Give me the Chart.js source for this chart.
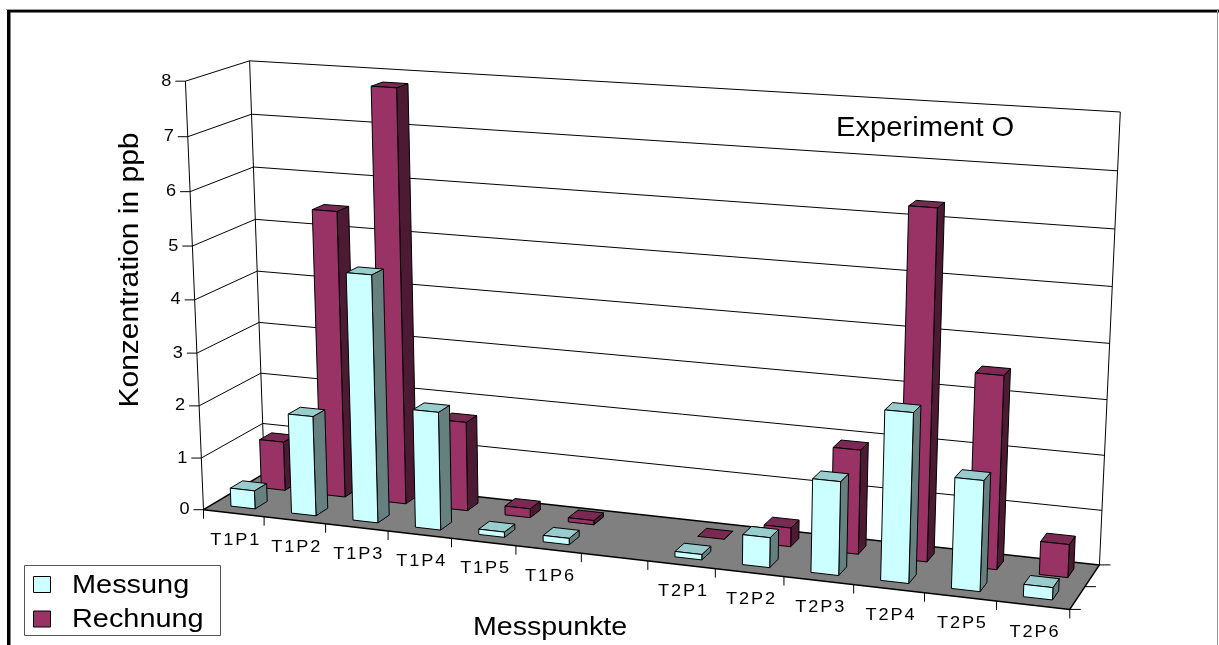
<!DOCTYPE html>
<html>
<head>
<meta charset="utf-8">
<title>Experiment O</title>
<script src="https://cdn.jsdelivr.net/npm/chart.js@4"></script>
<style>
body { margin: 0; background: #fff; }
canvas { display: block; }
</style>
</head>
<body>
<canvas id="chart1" width="1219" height="645"></canvas>
<script>
const categories = ['T1P1', 'T1P2', 'T1P3', 'T1P4', 'T1P5', 'T1P6', '', 'T2P1', 'T2P2', 'T2P3', 'T2P4', 'T2P5', 'T2P6'];
const messung = [0.35, 1.9, 4.65, 2.22, 0.1, 0.12, null, 0.1, 0.55, 1.7, 3.05, 1.98, 0.22];
const rechnung = [0.95, 5.47, 7.82, 1.7, 0.17, 0.08, null, 0, 0.35, 1.92, 6.33, 3.5, 0.6];

const FONT = '"Liberation Sans", Arial, sans-serif';

// where the corners of the 3D box land on the page: [u, v, w, px, py]
const boxCorners = [
  [0, 0, 0, 203.5, 510], [0, 1, 0, 185.5, 81], [0, 1, 1, 249.5, 61], [0, 0, 1, 264.5, 473],
  [1, 0, 1, 1099.5, 565], [1, 1, 1, 1120.3, 112], [1, 0, 0, 1069.7, 609.3]
];

// least squares fit of the camera matrix
function fitCamera(points) {
  const n = 11;
  const A = Array.from({ length: n }, () => new Array(n + 1).fill(0));
  const add = (row, rhs) => {
    for (let i = 0; i < n; i++) {
      for (let j = 0; j < n; j++) A[i][j] += row[i] * row[j];
      A[i][n] += row[i] * rhs;
    }
  };
  points.forEach(([u, v, w, x, y]) => {
    add([u, v, w, 1, 0, 0, 0, 0, -x * u, -x * v, -x * w], x);
    add([0, 0, 0, 0, u, v, w, 1, -y * u, -y * v, -y * w], y);
  });
  for (let c = 0; c < n; c++) {
    let p = c;
    for (let r = c + 1; r < n; r++) if (Math.abs(A[r][c]) > Math.abs(A[p][c])) p = r;
    [A[c], A[p]] = [A[p], A[c]];
    for (let r = 0; r < n; r++) {
      if (r === c) continue;
      const f = A[r][c] / A[c][c];
      for (let k = c; k <= n; k++) A[r][k] -= f * A[c][k];
    }
  }
  return A.map((row, i) => row[n] / row[i]);
}

const cam = fitCamera(boxCorners);
function project(u, v, w) {
  const d = cam[8] * u + cam[9] * v + cam[10] * w + 1;
  return [
    (cam[0] * u + cam[1] * v + cam[2] * w + cam[3]) / d,
    (cam[4] * u + cam[5] * v + cam[6] * w + cam[7]) / d
  ];
}

function face(ctx, pts, fill) {
  ctx.beginPath();
  pts.forEach((p, i) => (i ? ctx.lineTo(p[0], p[1]) : ctx.moveTo(p[0], p[1])));
  ctx.closePath();
  if (fill) {
    ctx.fillStyle = fill;
    ctx.fill();
  }
  ctx.stroke();
}

function line(ctx, a, b, width) {
  ctx.lineWidth = width || 1;
  ctx.beginPath();
  ctx.moveTo(a[0], a[1]);
  ctx.lineTo(b[0], b[1]);
  ctx.stroke();
}

// the reference type is stretched sideways, hence the stretch factor
function text(ctx, str, x, y, size, align, stretch, spacing, angle) {
  ctx.save();
  ctx.translate(x, y);
  if (angle) ctx.rotate(angle);
  ctx.scale(stretch, 1);
  ctx.font = size + 'px ' + FONT;
  ctx.textAlign = align;
  ctx.letterSpacing = (spacing || 0) + 'px';
  ctx.fillStyle = '#000';
  ctx.fillText(str, 0, 0);
  ctx.restore();
}

const box3d = {
  id: 'box3d',
  beforeDatasetsDraw(chart) {
    const { ctx, scales } = chart;
    const xs = scales.x, ys = scales.y;
    ctx.save();
    ctx.strokeStyle = '#000';
    ctx.lineJoin = 'round';

    // page frame
    ctx.fillStyle = '#000';
    ctx.fillRect(7, 10, 3.5, 635);
    ctx.fillRect(7, 10, 1212, 2.5);
    ctx.fillStyle = '#999';
    ctx.fillRect(6, 9, 1213, 1);
    ctx.fillRect(1217, 9, 1, 636);

    // floor
    ctx.lineWidth = 1.5;
    face(ctx, [project(0, 0, 0), project(1, 0, 0), project(1, 0, 1), project(0, 0, 1)], '#808080');

    // grid on the two walls
    ys.ticks.forEach(t => {
      const v = (ys.getPixelForValue(0) - ys.getPixelForValue(t.value)) / chart.chartArea.height;
      const front = project(0, v, 0);
      if (t.value > 0) {
        line(ctx, front, project(0, v, 1));
        line(ctx, project(0, v, 1), project(1, v, 1));
      }
      line(ctx, front, [front[0] - 10, front[1]]);
      ctx.textBaseline = 'middle';
      text(ctx, String(t.value), front[0] - 14, front[1], 16.5, 'right', 1.1);
    });
    line(ctx, project(0, 0, 0), project(0, 1, 0));
    line(ctx, project(0, 0, 1), project(0, 1, 1));
    line(ctx, project(1, 0, 1), project(1, 1, 1));

    // x ticks and labels along the front edge
    const band = chart.chartArea.width / categories.length;
    for (let i = 0; i <= categories.length; i++) {
      const p = project(i * band / chart.chartArea.width, 0, 0);
      line(ctx, p, [p[0], p[1] + 9]);
    }
    categories.forEach((c, i) => {
      const p = project((xs.getPixelForValue(i) - chart.chartArea.left) / chart.chartArea.width, 0, 0);
      ctx.textBaseline = 'middle';
      text(ctx, c, p[0] + 2, p[1] + 27, 16.5, 'center', 1.1, 1.7);
    });

    // depth ticks on the right edge
    [0, 0.5, 1].forEach(w => {
      const p = project(1, 0, w);
      line(ctx, p, [p[0] + 11, p[1]]);
    });

    // titles
    ctx.textBaseline = 'alphabetic';
    text(ctx, 'Messpunkte', 473, 635, 26, 'left', 1.1);
    text(ctx, 'Experiment O', 836, 136, 27, 'left', 1.08);
    text(ctx, 'Konzentration in ppb', 138, 270, 27, 'center', 1.11, 0, -Math.PI / 2);

    // legend
    ctx.strokeStyle = '#555';
    ctx.lineWidth = 1;
    ctx.fillStyle = '#fff';
    ctx.fillRect(24.5, 565.5, 196, 70);
    ctx.strokeRect(24.5, 565.5, 196, 70);
    ctx.strokeStyle = '#000';
    chart.data.datasets.forEach((ds, i) => {
      const top = 576.5 + i * 34.5;
      ctx.fillStyle = ds.backgroundColor;
      ctx.fillRect(33.5, top, 17, 16);
      ctx.strokeRect(33.5, top, 17, 16);
      text(ctx, ds.label, 72, top + 16, 26.5, 'left', 1.09);
    });
    ctx.restore();
  },
  beforeDatasetDraw(chart, args) {
    const { ctx, chartArea: area } = chart;
    const ds = chart.data.datasets[args.index];
    ctx.save();
    ctx.strokeStyle = '#000';
    ctx.lineWidth = 1;
    ctx.lineJoin = 'round';
    args.meta.data.forEach((bar, i) => {
      if (ds.data[i] === null) return;
      const u0 = (bar.x - bar.width / 2 - area.left) / area.width;
      const u1 = (bar.x + bar.width / 2 - area.left) / area.width;
      const v = (bar.base - bar.y) / area.height;
      const [w0, w1] = ds.rowDepth;
      face(ctx, [project(u1, 0, w0), project(u1, 0, w1), project(u1, v, w1), project(u1, v, w0)], ds.sideColor);
      face(ctx, [project(u0, v, w0), project(u1, v, w0), project(u1, v, w1), project(u0, v, w1)], ds.topColor);
      if (v > 0) face(ctx, [project(u0, 0, w0), project(u1, 0, w0), project(u1, v, w0), project(u0, v, w0)], ds.backgroundColor);
    });
    ctx.restore();
    return false;
  }
};

new Chart('chart1', {
  type: 'bar',
  data: {
    labels: categories,
    datasets: [
      { label: 'Messung', data: messung, backgroundColor: '#CCFFFF', sideColor: '#668080', topColor: '#99CCCC', rowDepth: [0.15, 0.35] },
      { label: 'Rechnung', data: rechnung, backgroundColor: '#993366', sideColor: '#4D1A33', topColor: '#7A2952', rowDepth: [0.65, 0.85] }
    ]
  },
  options: {
    responsive: false,
    animation: false,
    layout: { padding: 0 },
    datasets: { bar: { grouped: false, barPercentage: 0.4, categoryPercentage: 1 } },
    plugins: { legend: { display: false }, tooltip: { enabled: false } },
    scales: {
      x: { display: false, ticks: { autoSkip: false } },
      y: { display: false, min: 0, max: 8, ticks: { stepSize: 1 } }
    }
  },
  plugins: [box3d]
});
</script>
</body>
</html>
